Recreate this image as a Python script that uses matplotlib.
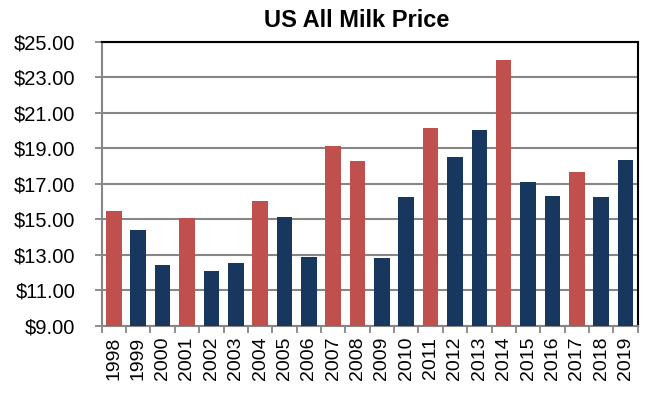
import matplotlib
matplotlib.use('Agg')
import matplotlib.pyplot as plt
import numpy as np

# US all milk price, $/cwt
years = ['1998', '1999', '2000', '2001', '2002', '2003', '2004', '2005', '2006', '2007', '2008',
         '2009', '2010', '2011', '2012', '2013', '2014', '2015', '2016', '2017', '2018', '2019']
prices = [15.46, 14.38, 12.40, 15.04, 12.11, 12.55, 16.05, 15.13, 12.88, 19.13, 18.29,
          12.83, 16.26, 20.14, 18.53, 20.05, 23.98, 17.12, 16.30, 17.65, 16.26, 18.31]
red_years = ['1998', '2001', '2004', '2007', '2008', '2011', '2014', '2017']
yticks = [9, 11, 13, 15, 17, 19, 21, 23, 25]

plt.rcParams['font.family'] = ['Liberation Sans', 'DejaVu Sans']

red = '#C0504D'
navy = '#17375E'
grey = '#868686'

fig = plt.figure(figsize=(6.58, 3.96), dpi=100)
ax = fig.add_axes([0.1546, 0.1775, 0.8145, 0.7172])

x = np.arange(len(years))
colors = [red if y in red_years else navy for y in years]
ax.bar(x, prices, width=0.64, color=colors, zorder=3)

ax.set_xlim(-0.5, len(years) - 0.5)
ax.set_ylim(9, 25)
ax.set_yticks(yticks)
ax.set_yticklabels(['${:.2f}'.format(v) for v in yticks], fontsize=14.5)
ax.yaxis.grid(True, color=grey, lw=1.5, zorder=0)

ax.set_xticks(x)
ax.set_xticklabels(years, rotation=90, fontsize=14)
ax.set_xticks(np.arange(len(years) + 1) - 0.5, minor=True)
ax.tick_params(axis='x', which='major', length=0, pad=8)
ax.tick_params(axis='x', which='minor', length=5, width=1.3, color=grey)
ax.tick_params(axis='y', length=5, width=1.3, color=grey, pad=14)

for s in ['left', 'bottom']:
    ax.spines[s].set_color(grey)
    ax.spines[s].set_linewidth(1.5)
for s in ['top', 'right']:
    ax.spines[s].set_color('black')
    ax.spines[s].set_linewidth(1.5)

fig.text(0.542, 0.949, 'US All Milk Price', ha='center', va='center',
         fontsize=17, fontweight='bold')

fig.savefig('out.png', dpi=100)
